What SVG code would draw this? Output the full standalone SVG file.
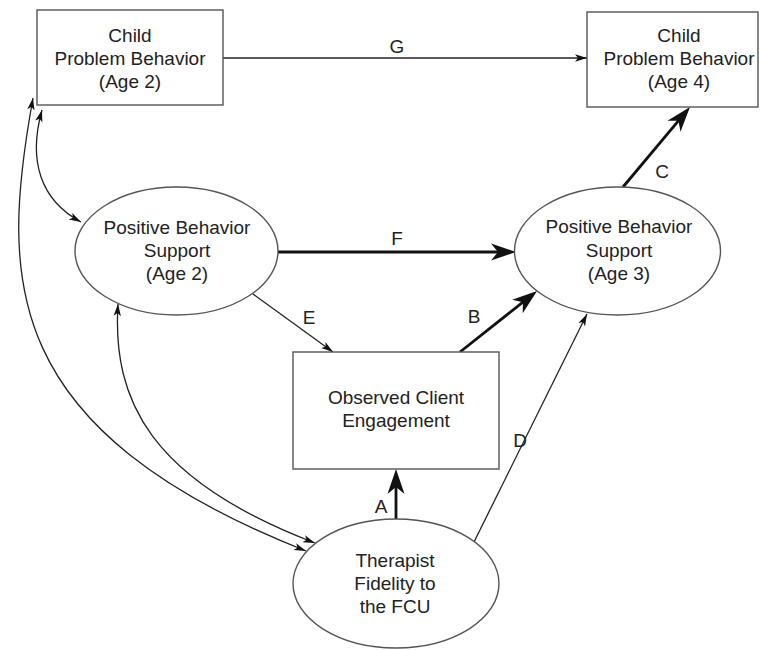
<svg xmlns="http://www.w3.org/2000/svg" width="761" height="650" viewBox="0 0 761 650">
<style>
.node{fill:#fff;stroke:#555;stroke-width:1.4}
text{font-family:"Liberation Sans",Arial,sans-serif;font-size:19px;fill:#222;text-anchor:middle}
.thin{fill:none;stroke:#222;stroke-width:1.3}
.thick{fill:none;stroke:#111;stroke-width:2.8}
</style>
<defs>
<marker id="sa" markerUnits="userSpaceOnUse" markerWidth="14" markerHeight="10" refX="12" refY="5" orient="auto-start-reverse" viewBox="0 0 14 10">
<path d="M0,1.3 L12,5 L0,8.7 L3,5 z" fill="#111"/>
</marker>
<marker id="la" markerUnits="userSpaceOnUse" markerWidth="26" markerHeight="20" refX="15" refY="10" orient="auto" viewBox="0 0 26 20">
<path d="M0,1.5 L25,10 L0,18.5 L7,10 z" fill="#111"/>
</marker>
</defs>
<rect width="761" height="650" fill="#fff"/>
<g id="connectors">
<line class="thin" x1="223" y1="58" x2="587" y2="58" marker-end="url(#sa)"/>
<line class="thick" x1="278" y1="252" x2="506" y2="252" marker-end="url(#la)"/>
<line class="thin" x1="253" y1="294" x2="333" y2="352" marker-end="url(#sa)"/>
<line class="thick" x1="460" y1="352" x2="529.2" y2="297.2" marker-end="url(#la)"/>
<line class="thick" x1="623" y1="187" x2="683.6" y2="114.7" marker-end="url(#la)"/>
<line class="thin" x1="474" y1="542" x2="587" y2="314" marker-end="url(#sa)"/>
<line class="thick" x1="396" y1="519" x2="396" y2="479" marker-end="url(#la)"/>
<path class="thin" d="M42,110 C28,160 40,200 81,222" marker-start="url(#sa)" marker-end="url(#sa)"/>
<path class="thin" d="M33,98 C0,280 0,430 306,551" marker-start="url(#sa)" marker-end="url(#sa)"/>
<path class="thin" d="M118,304 C112,400 150,480 315,543" marker-start="url(#sa)" marker-end="url(#sa)"/>
<text x="397" y="53">G</text>
<text x="397" y="245">F</text>
<text x="309" y="324">E</text>
<text x="474" y="323">B</text>
<text x="662" y="178">C</text>
<text x="381" y="513">A</text>
<text x="520" y="447">D</text>
</g>
<g id="cpb2">
<rect class="node" x="37" y="10" width="186" height="95"/>
<text x="130" y="42">Child</text>
<text x="130" y="65">Problem Behavior</text>
<text x="130" y="88">(Age 2)</text>
</g>
<g id="cpb4">
<rect class="node" x="587" y="12" width="171" height="95"/>
<text x="679" y="42">Child</text>
<text x="679" y="65">Problem Behavior</text>
<text x="679" y="88">(Age 4)</text>
</g>
<g id="pbs2">
<ellipse class="node" cx="176.5" cy="251" rx="101.5" ry="64"/>
<text x="177" y="234">Positive Behavior</text>
<text x="177" y="257">Support</text>
<text x="177" y="280">(Age 2)</text>
</g>
<g id="pbs3">
<ellipse class="node" cx="617.5" cy="251" rx="103" ry="64"/>
<text x="619" y="233">Positive Behavior</text>
<text x="619" y="257">Support</text>
<text x="619" y="280">(Age 3)</text>
</g>
<g id="engagement">
<rect class="node" x="293" y="352" width="206" height="117"/>
<text x="396" y="404">Observed Client</text>
<text x="396" y="427">Engagement</text>
</g>
<g id="fidelity">
<ellipse class="node" cx="396" cy="583.5" rx="103" ry="64.5"/>
<text x="395" y="567">Therapist</text>
<text x="395" y="590">Fidelity to</text>
<text x="395" y="613">the FCU</text>
</g>
</svg>
